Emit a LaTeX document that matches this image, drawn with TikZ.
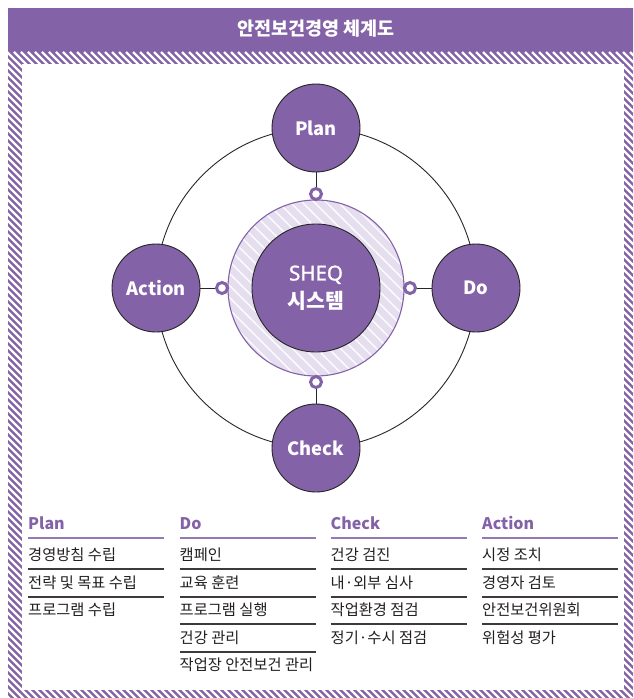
\documentclass[tikz,border=0pt]{standalone}
\usepackage{fontspec}
\setmainfont{Noto Sans CJK KR}
\newfontfamily\sheqfont[FakeBold=1.2]{Noto Sans}
\definecolor{pur}{HTML}{8462A7}
\definecolor{lav}{HTML}{E5DEEE}
\definecolor{txt}{HTML}{231F20}
\definecolor{sepc}{HTML}{3E3A3A}
\definecolor{hline}{HTML}{9479B8}
\tikzset{
  phase/.style={circle, fill=pur, draw=black!85, line width=0.9pt, minimum size=88pt, inner sep=0pt,
    text=white, font=\bfseries\fontsize{18.3}{22}\selectfont},
  conn/.style={circle, draw=pur, line width=3pt, fill=white, minimum size=11pt, inner sep=0pt},
  link/.style={draw=black!85, line width=0.9pt},
  head/.style={anchor=base west, inner sep=0pt, text=pur, font=\bfseries\fontsize{16}{18}\selectfont},
  item/.style={anchor=base west, inner sep=0pt, text=txt, font=\fontsize{15.3}{17}\selectfont},
  sepline/.style={draw=sepc, line width=1.2pt},
  hdline/.style={draw=hline, line width=1.5pt}
}
\begin{document}
\begin{tikzpicture}[x=1pt,y=-1pt]
\useasboundingbox (0,0) rectangle (633,698);
\clip (0,0) rectangle (633,698);
\fill[white] (0,0) rectangle (633,698);
% title bar
\fill[pur] (8,8) rectangle (642,52);
\node[text=white, font=\bfseries\fontsize{18.5}{22}\selectfont] (title) at (316,29) {안전보건경영 체계도};
% hatched frame
\begin{scope}
  \clip (8,52) rectangle (642,706);
  \fill[pur] (8,52) rectangle (642,706);
  \foreach \i in {-714,-707,...,650} \draw[white, line width=2.3pt] (\i,52) -- ++(700,700);
\end{scope}
\fill[white] (22,64) rectangle (624,690);
% cycle
\coordinate (o) at (316,288);
\draw[link] (o) circle (160);
% hatched ring
\begin{scope}
  \clip (o) circle (88);
  \fill[lav] (o) circle (88);
  \foreach \i in {-204,-192,...,204} \draw[white, line width=1.2pt] ([xshift=\i]o) ++(-120,-120) -- ++(240,240);
\end{scope}
\draw[pur, line width=1.1pt] (o) circle (88);
\node[circle, fill=pur, draw=black!85, line width=0.9pt, minimum size=128pt, inner sep=0pt, text=white, align=center,
  font=\fontsize{20.5}{28}\selectfont]
  (core) at (o) {{\sheqfont SHEQ}\\{\bfseries 시스템}};
% phases
\node[phase] (plan) at (316,128) {Plan};
\node[phase] (do) at (476,288) {Do};
\node[phase] (check) at (316,448) {Check};
\node[phase] (action) at (156,288) {Action};
% connector rings
\node[conn] (ct) at (316,194) {};
\node[conn] (cr) at (410,288) {};
\node[conn] (cb) at (316,382) {};
\node[conn] (cl) at (222,288) {};
\draw[link] (ct) -- (plan);
\draw[link] (cr) -- (do);
\draw[link] (cb) -- (check);
\draw[link] (cl) -- (action);
% lists
\node[head] (hp) at (28,529) {Plan};
\node[head] (hd) at (179.5,529) {Do};
\node[head] (hc) at (330.5,529) {Check};
\node[head] (ha) at (482,529) {Action};
\foreach \x in {28,179.5,330.5,482} \draw[hdline] (\x,538) -- ++(136,0);
% Plan
\node[item] (p1) at (28,560) {경영방침 수립};
\node[item] (p2) at (28,588) {전략 및 목표 수립};
\node[item] (p3) at (28,615) {프로그램 수립};
\foreach \y in {569,597} \draw[sepline] (28,\y) -- ++(136,0);
% Do
\node[item] (d1) at (179.5,560) {캠페인};
\node[item] (d2) at (179.5,588) {교육 훈련};
\node[item] (d3) at (179.5,615) {프로그램 실행};
\node[item] (d4) at (179.5,643) {건강 관리};
\node[item] (d5) at (179.5,670) {작업장 안전보건 관리};
\foreach \y in {569,597,624,652} \draw[sepline] (179.5,\y) -- ++(136,0);
% Check
\node[item] (c1) at (330.5,560) {건강 검진};
\node[item] (c2) at (330.5,588) {내·외부 심사};
\node[item] (c3) at (330.5,615) {작업환경 점검};
\node[item] (c4) at (330.5,643) {정기·수시 점검};
\foreach \y in {569,597,624} \draw[sepline] (330.5,\y) -- ++(136,0);
% Action
\node[item] (a1) at (482,560) {시정 조치};
\node[item] (a2) at (482,588) {경영자 검토};
\node[item] (a3) at (482,615) {안전보건위원회};
\node[item] (a4) at (482,643) {위험성 평가};
\foreach \y in {569,597,624} \draw[sepline] (482,\y) -- ++(136,0);
\end{tikzpicture}
\end{document}
